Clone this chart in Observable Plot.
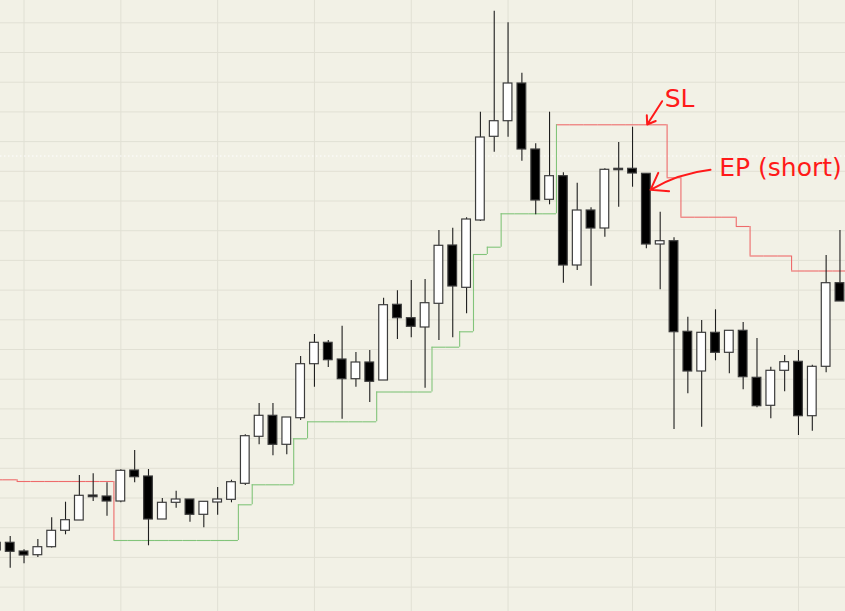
<!DOCTYPE html>
<html><head><meta charset="utf-8">
<script src="https://cdn.jsdelivr.net/npm/d3@7"></script>
<script src="https://cdn.jsdelivr.net/npm/@observablehq/plot@0.6"></script>
<style>html,body{margin:0;padding:0;background:#f2f1e6;overflow:hidden} svg{display:block}</style>
</head><body><div id="chart"></div>
<script>
// Candle values (price units), one entry per bar
const open  = [68.7,68.7,60,56.3,64.3,80.7,91,116,115,110,141,135,92,108.7,112,96.7,109,111.7,127.7,174.7,195.7,166.7,193.3,247.3,268.7,252,232.3,249,231,306.7,293.3,284,307.7,366,323.7,391,474.7,490.3,528,462,411.7,435.3,346,401,383,442.7,442.7,437.7,367,370.3,279.7,240,278.7,258.7,280.7,233.7,205.7,240.7,249.7,195.3,244.7,328.3];
const high  = [73,75,61.7,72,93.7,109.3,136,137.7,128.7,141.7,161,142,113,120.3,112,109.7,124,131.3,176.7,208,208,194,255,277,271,285.3,259,261,313.3,320.7,331,332,381,383.3,393.7,499.3,600.3,588.7,538.3,467.7,499.3,438.7,428.3,403.7,442.7,469,484.3,437.7,399.3,373.7,294.3,291,301.7,280.7,289,273,244.3,256,261,246.3,356,381];
const low   = [55,43.3,47.7,54,63.5,76.7,91,110,95.3,108.7,128.7,65.7,92,103.3,89.3,83.7,96.3,108.7,126,166.7,155.7,156.7,191,224.3,244,192.3,224.3,209,231,272,273.7,223.3,271,273.7,297.7,390,459.3,474.3,450.3,396.7,406.7,328.3,341,325.3,374.3,404.3,424.3,362.7,321.7,182,217.7,184.3,250.7,237.7,221.7,203.7,192.7,219.7,176,180.3,238.7,310];
const close = [61,59.7,56,64.3,80.7,91.3,115.7,114.3,110,140.7,134.3,92,108.7,112,96.7,109.7,112,129.3,175.3,195.7,166.7,194,247.3,268.7,251.3,232.3,249,229.7,306.3,293.3,284.7,308.3,365.7,325,392,474,490.3,528,462,411,435.3,346,401,383,441.7,441.3,438,367,370.3,279.3,240,278.7,258.7,280.7,234.3,205.3,240.7,249.3,195.3,244.7,328.3,310];
// Trailing stop level for each bar
const stop  = [131.7,131.7,130,130,130,130,130,130,130,71,71,71,71,71,71,71,71,71,106.7,126.7,126.7,126.7,172.7,189.7,189.7,189.7,189.7,189.7,219.5,219.5,219.5,219.5,264.3,264.3,279.7,357,364.3,397.7,397.7,397.7,397.7,486.7,486.7,486.7,486.7,486.7,486.7,486.7,486.7,433.7,394.3,394.3,394.3,394.3,385,355.5,355.5,355.5,340.5,340.5,340.5,340.5];
// Grid
const gridPrices = [588.7,559.0,529.3,499.6,469.9,440.2,410.5,380.8,351.1,321.4,291.7,262.0,232.3,202.6,172.9,143.2,113.5,83.8,54.1,24.4];
const gridBars = [2,9,16,23,30,37,46,52,58];
const lastPrice = [455.5];
// Hand annotations
const noteLabels = ["SL", "EP (short)"];
const noteBars   = [49.4, 56.7];
const notePrices = [513, 444];
const slArrow = {fromBar: 48.14, fromPrice: 510.3, toBar: 47.06, toPrice: 487};
const epArrow = {fromBar: 51.64, fromPrice: 441.7, toBar: 47.3, toPrice: 421.7};

const bars = open.map((o, i) => ({i, o, h: high[i], l: low[i], c: close[i], up: close[i] >= o}));
const stopCol = i => stop[i] > close[i] ? "#ee6b6b" : "#82c47a";
const stopH = stop.map((v, i) => ({i, v, col: stopCol(i)}));
const stopV = stop.slice(0, -1).map((v, i) => ({i, v1: v, v2: stop[i + 1], col: stopCol(i)})).filter(d => d.v1 !== d.v2);
const notes = noteLabels.map((t, k) => ({t, x: noteBars[k], y: notePrices[k]}));
const arrowOpts = {x1: "fromBar", y1: "fromPrice", x2: "toBar", y2: "toPrice", stroke: "#ff1a1a", strokeWidth: 2, headLength: 14, headAngle: 70};

const chart = Plot.plot({
  width: 845, height: 611, margin: 0,
  x: {domain: [0.2986, 61.4], axis: null},
  y: {domain: [0, 611], axis: null},
  color: {type: "identity"},
  style: {background: "#f2f1e6"},
  marks: [
    Plot.ruleY(gridPrices, {stroke: "#e1e0d4", strokeWidth: 1}),
    Plot.ruleX(gridBars, {stroke: "#e1e0d4", strokeWidth: 1}),
    Plot.ruleY(lastPrice, {stroke: "#ffffff", strokeWidth: 1, strokeDasharray: "1.5,2.5"}),
    Plot.ruleY(stopH, {x1: d => d.i - 0.5, x2: d => d.i + 0.5, y: "v", stroke: "col", strokeWidth: 1.1}),
    Plot.ruleX(stopV, {x: d => d.i + 0.5, y1: "v1", y2: "v2", stroke: "col", strokeWidth: 1.1}),
    Plot.ruleX(bars, {x: "i", y1: "l", y2: "h", stroke: "#1e1e1e", strokeWidth: 1.1}),
    Plot.rect(bars, {x1: d => d.i - 0.315, x2: d => d.i + 0.315, y1: "o", y2: "c",
      fill: d => d.up ? "#ffffff" : "#000000", stroke: "#3c3c3c", strokeWidth: 1.2}),
    Plot.arrow([slArrow], {...arrowOpts, bend: 0}),
    Plot.arrow([epArrow], {...arrowOpts, bend: -12}),
    Plot.text(notes, {x: "x", y: "y", text: "t", fill: "#ff1a1a", fontSize: 25, fontFamily: "DejaVu Sans", textAnchor: "middle"})
  ]
});
document.getElementById("chart").appendChild(chart);
</script>
</body></html>
